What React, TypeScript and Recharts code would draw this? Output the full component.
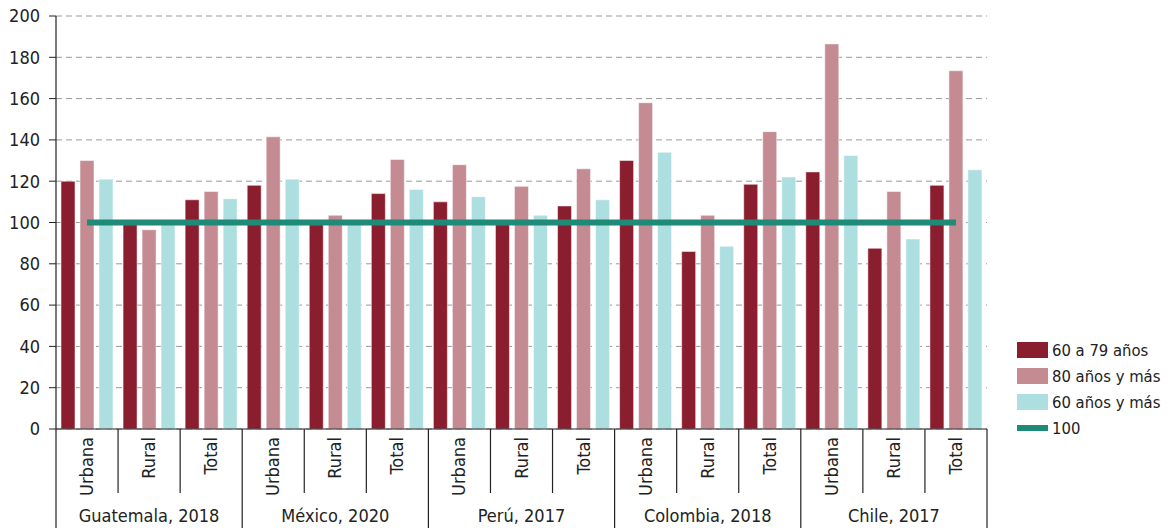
import { ComposedChart, Bar, Line, XAxis, YAxis, CartesianGrid } from 'recharts';

const FONT = '"Liberation Sans Narrow", "DejaVu Sans Condensed", "Liberation Sans", sans-serif';

const groups = ['Guatemala, 2018', 'México, 2020', 'Perú, 2017', 'Colombia, 2018', 'Chile, 2017'];
const areas = ['Urbana', 'Rural', 'Total'];

// values per category: Guatemala U/R/T, México U/R/T, Perú U/R/T, Colombia U/R/T, Chile U/R/T
const age60to79 = [120, 99, 111, 118, 99, 114, 110, 99, 108, 130, 86, 118.5, 124.5, 87.5, 118];
const age80plus = [130, 96.5, 115, 141.5, 103.5, 130.5, 128, 117.5, 126, 158, 103.5, 144, 186.5, 115, 173.5];
const age60plus = [121, 99, 111.5, 121, 99, 116, 112.5, 103.5, 111, 134, 88.5, 122, 132.5, 92, 125.5];
const referenceLevel = [100, 100, 100, 100, 100, 100, 100, 100, 100, 100, 100, 100, 100, 100, 100];

const yTicks = [0, 20, 40, 60, 80, 100, 120, 140, 160, 180, 200];

const series = [
  { key: 'a', name: '60 a 79 años', color: '#8B1E2E' },
  { key: 'b', name: '80 años y más', color: '#C48B93' },
  { key: 'c', name: '60 años y más', color: '#ADDFE0' },
];
const lineColor = '#1F8A78';

const data = age60to79.map((v, i) => ({
  id: `${groups[Math.floor(i / 3)]}|${areas[i % 3]}`,
  a: v,
  b: age80plus[i],
  c: age60plus[i],
  level: referenceLevel[i],
}));

function CategoryTick(props: any) {
  const { x, y, payload } = props;
  const idx: number = payload.index;
  const half: number = payload.offset || 31;
  const [group, area] = String(payload.value).split('|');
  const left = x - half;
  const right = x + half;
  const top = y - 8;
  const isGroupStart = idx % 3 === 0;
  const isLast = idx === data.length - 1;
  return (
    <g>
      <line x1={left} y1={top} x2={left} y2={top + (isGroupStart ? 99 : 64)} stroke="#222" strokeWidth={1.2} />
      {isLast && <line x1={right} y1={top} x2={right} y2={top + 99} stroke="#222" strokeWidth={1.2} />}
      <text
        x={x + 6}
        y={top + 8}
        transform={`rotate(-90 ${x + 6} ${top + 8})`}
        textAnchor="end"
        fontSize={18}
        fontFamily={FONT}
        fill="#222"
      >
        {area}
      </text>
      {idx % 3 === 1 && (
        <text x={x} y={top + 93} textAnchor="middle" fontSize={18} fontFamily={FONT} fill="#222">
          {group}
        </text>
      )}
    </g>
  );
}

function ChartLegend() {
  return (
    <div style={{ position: 'absolute', left: 1017, top: 337, fontFamily: FONT, fontSize: 16.5, color: '#222', whiteSpace: 'nowrap' }}>
      {series.map(s => (
        <div key={s.key} style={{ display: 'flex', alignItems: 'center', height: 26 }}>
          <span style={{ width: 31, height: 16, background: s.color, marginRight: 4, display: 'inline-block' }} />
          {s.name}
        </div>
      ))}
      <div style={{ display: 'flex', alignItems: 'center', height: 26 }}>
        <span style={{ width: 31, height: 6, background: lineColor, marginRight: 4, display: 'inline-block' }} />
        100
      </div>
    </div>
  );
}

export default function App() {
  return (
    <div style={{ position: 'absolute', left: 0, top: 0, width: 1168, height: 531, background: '#fff' }}>
      <ComposedChart
        width={1168}
        height={531}
        data={data}
        margin={{ top: 16, right: 181, left: 0, bottom: 0 }}
        barCategoryGap={5}
        barGap={5}
      >
        <CartesianGrid vertical={false} stroke="#999" strokeDasharray="6 4" />
        <XAxis
          dataKey="id"
          interval={0}
          height={102}
          tick={<CategoryTick />}
          tickLine={false}
          axisLine={{ stroke: '#222', strokeWidth: 1.2 }}
        />
        <YAxis
          domain={[0, 200]}
          ticks={yTicks}
          width={56}
          tickSize={7}
          tickMargin={9}
          tick={{ fill: '#222', fontSize: 18, fontFamily: FONT }}
          tickLine={{ stroke: '#222' }}
          axisLine={{ stroke: '#222', strokeWidth: 1.2 }}
        />
        {series.map(s => (
          <Bar
            key={s.key}
            dataKey={s.key}
            name={s.name}
            fill={s.color}
            stroke="#ffffff"
            strokeOpacity={0.5}
            strokeWidth={1}
            isAnimationActive={false}
          />
        ))}
        <Line
          dataKey="level"
          name="100"
          stroke={lineColor}
          strokeWidth={6}
          dot={false}
          activeDot={false}
          isAnimationActive={false}
        />
      </ComposedChart>
      <ChartLegend />
    </div>
  );
}
